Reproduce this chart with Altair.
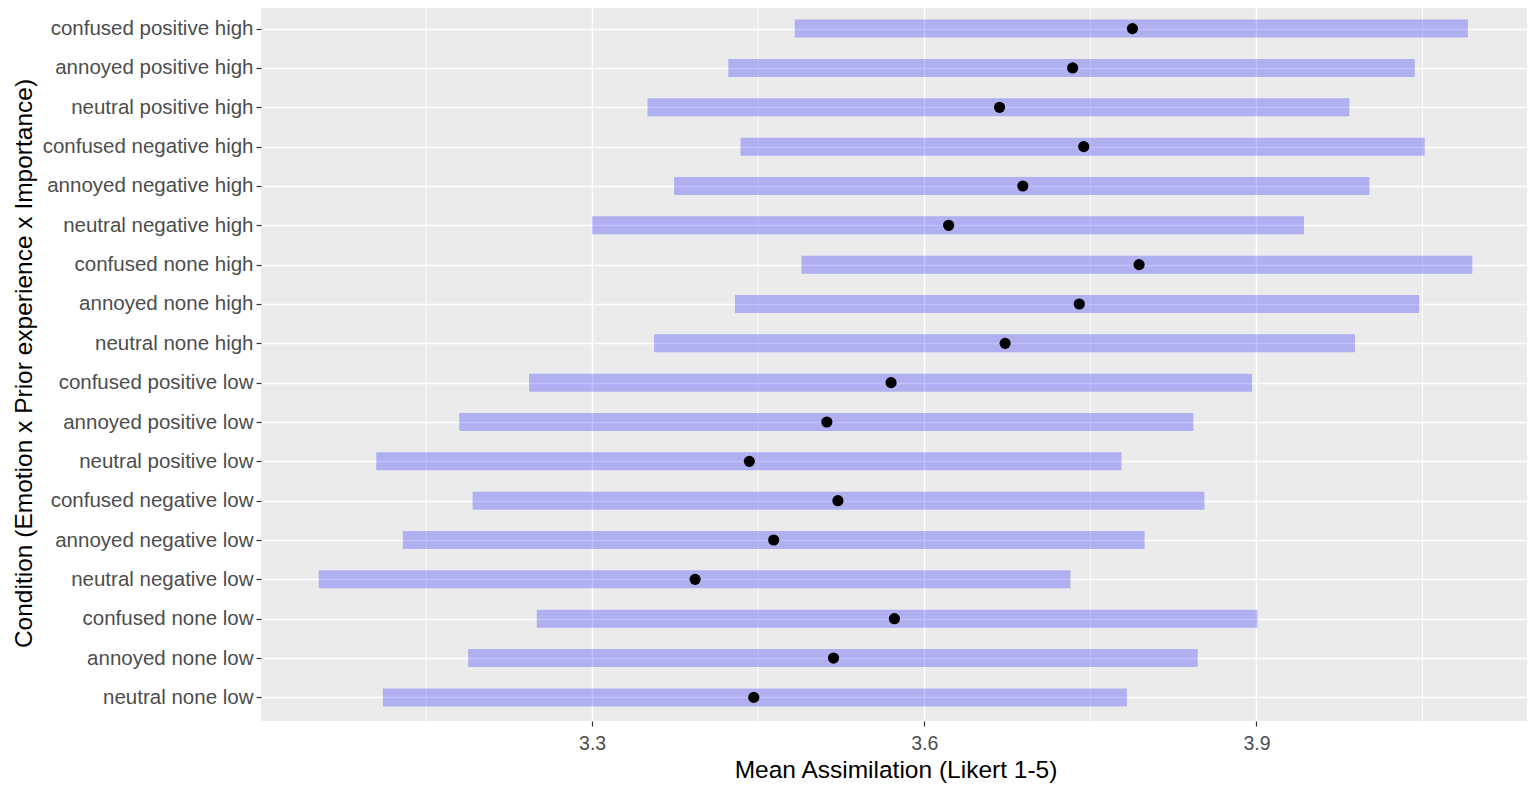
import altair as alt
import pandas as pd

categories = [
    "confused positive high", "annoyed positive high", "neutral positive high",
    "confused negative high", "annoyed negative high", "neutral negative high",
    "confused none high", "annoyed none high", "neutral none high",
    "confused positive low", "annoyed positive low", "neutral positive low",
    "confused negative low", "annoyed negative low", "neutral negative low",
    "confused none low", "annoyed none low", "neutral none low",
]
lower = [3.483, 3.423, 3.350, 3.434, 3.374, 3.300, 3.489, 3.429, 3.356,
         3.243, 3.180, 3.105, 3.192, 3.129, 3.053, 3.250, 3.188, 3.111]
mean = [3.788, 3.734, 3.668, 3.744, 3.689, 3.622, 3.794, 3.740, 3.673,
        3.570, 3.512, 3.442, 3.522, 3.464, 3.393, 3.573, 3.518, 3.446]
upper = [4.091, 4.043, 3.984, 4.052, 4.002, 3.943, 4.095, 4.047, 3.989,
         3.896, 3.843, 3.778, 3.853, 3.799, 3.732, 3.901, 3.847, 3.783]
major_ticks = [3.3, 3.6, 3.9]
minor_ticks = [3.15, 3.45, 3.75, 4.05]

df = pd.DataFrame({"cond": categories, "lower": lower, "mean": mean, "upper": upper})
minor_df = pd.DataFrame({"v": minor_ticks})

FONT = "Liberation Sans"
x_scale = alt.Scale(domain=[3.0009, 4.1471], nice=False, zero=False)
y_scale = alt.Scale(type="point", domain=categories, padding=0.6)

x_axis = alt.Axis(values=major_ticks, format=".1f", title="Mean Assimilation (Likert 1-5)")
y_axis = alt.Axis(title="Condition (Emotion x Prior experience x Importance)",
                  titleX=-225, titleY=358, titleAngle=270, titleBaseline="bottom",
                  titleAlign="center")

minor = alt.Chart(minor_df).mark_rule(color="white", strokeWidth=0.8).encode(
    x=alt.X("v:Q", scale=x_scale, axis=x_axis)
)

bars = alt.Chart(df).mark_bar(color="#0000FF", opacity=0.25, size=18).encode(
    x=alt.X("lower:Q", scale=x_scale, axis=x_axis),
    x2="upper:Q",
    y=alt.Y("cond:N", scale=y_scale, axis=y_axis, sort=categories),
)

points = alt.Chart(df).mark_point(filled=True, color="black", opacity=1, size=125).encode(
    x=alt.X("mean:Q", scale=x_scale, axis=x_axis),
    y=alt.Y("cond:N", scale=y_scale, axis=y_axis, sort=categories),
)

chart = alt.layer(minor, bars, points).properties(
    width=1269,
    height=716,
    autosize=alt.AutoSizeParams(type="none"),
    padding={"left": 253, "top": -3, "right": -3, "bottom": 65},
    background="white",
).configure_view(
    fill="#EBEBEB", stroke=None
).configure_axis(
    domain=False,
    grid=True,
    gridColor="white",
    gridWidth=1.5,
    tickColor="#333333",
    tickSize=5,
    tickWidth=1.2,
    labelFont=FONT,
    labelColor="#4D4D4D",
    labelFontSize=20.5,
    labelPadding=3,
    labelLimit=0,
    titleFont=FONT,
    titleColor="black",
    titleFontSize=24.5,
    titleFontWeight="normal",
).configure_axisX(
    labelFontSize=19.5,
    labelPadding=8,
    titlePadding=6,
)

chart.save("out.html", embed_options={"renderer": "svg", "actions": False})
